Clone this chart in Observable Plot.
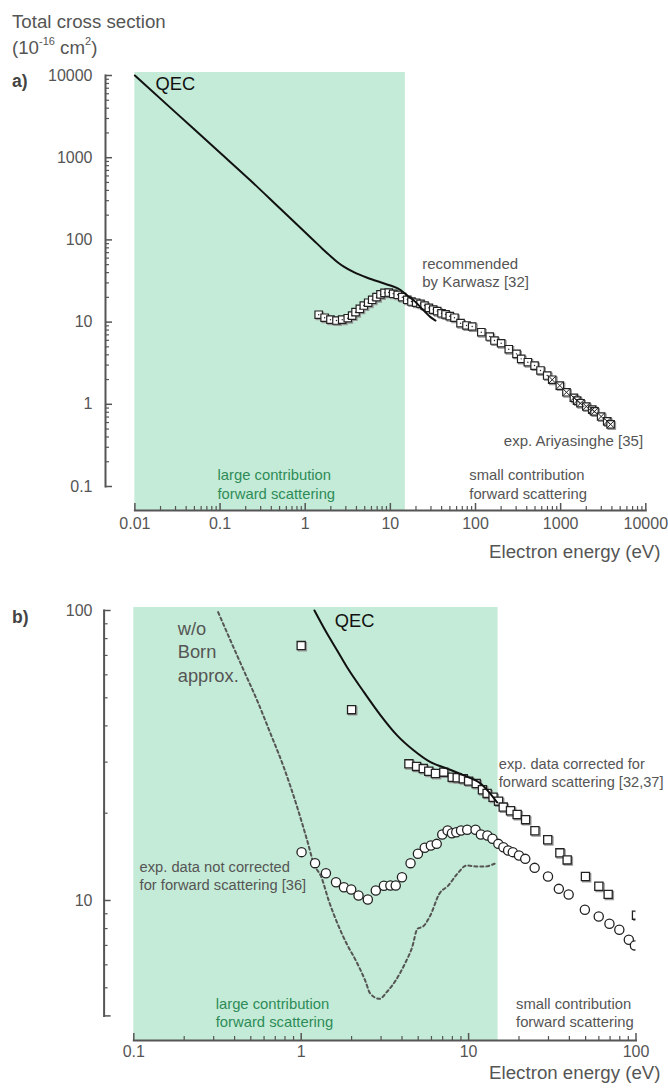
<!DOCTYPE html>
<html><head><meta charset="utf-8">
<script src="https://cdn.jsdelivr.net/npm/d3@7"></script>
<script src="https://cdn.jsdelivr.net/npm/@observablehq/plot@0.6"></script>
<style>
body{margin:0;background:#fff;}
#wrap{position:relative;width:668px;height:1092px;overflow:hidden;font-family:"Liberation Sans",Arial,Helvetica,sans-serif;color:#555;}
.lbl{position:absolute;left:12px;white-space:nowrap;line-height:1;}
.lbl sup{font-size:11px;line-height:0;vertical-align:baseline;position:relative;top:-9px;}
.panel{position:absolute;left:0;}
</style></head><body>
<div id="wrap">
<div id="pa" class="panel" style="top:0"></div>
<div id="pb" class="panel" style="top:585px"></div>
<div class="lbl" style="top:12.5px;font-size:18.7px">Total cross section</div>
<div class="lbl" style="top:39px;font-size:18.7px">(10<sup>-16</sup> cm<sup>2</sup>)</div>
<div class="lbl" style="top:73px;font-size:17.5px;font-weight:bold;color:#444">a)</div>
<div class="lbl" style="top:609px;font-size:17.5px;font-weight:bold;color:#444">b)</div>
</div>
<script>
// ---------- Panel a data ----------
const qecA_E = [0.01,0.03,0.1,0.228,0.5,1.26,1.6,2.0,2.4,2.84,3.72,5.35,7.66,10,13.2,15.8,19.8,24.7,29.6,33.9];
const qecA_Q = [10000,3560,1150,528,244,98.4,77.7,63.0,53.5,47.2,40.5,34.6,30.5,27.9,24.6,21.1,17.5,13.8,11.5,10.45];
const karwaszE = [1.44,1.69,1.98,2.33,2.72,3.16,3.56,3.90,4.38,4.88,5.49,6.12,6.88,7.66,8.53,9.59,10.8,12.2,13.8,15.8,17.7,20.1,22.6,25.2,28.3,31.9,35.5,39.9,44.5,49.9,56.6,66.7,78.4,91.4,117,147,167,200,246,303,344,412,494,580,695];
const karwaszQ = [12.3,11.3,10.7,10.45,10.7,11.15,12.0,13.2,14.5,15.9,17.2,18.7,20.1,21.7,22.7,22.9,22.1,21.5,20.1,18.7,17.8,17.2,16.7,15.9,14.9,14.2,13.6,12.8,12.4,11.8,11.3,9.7,9.1,8.84,7.53,6.68,5.97,5.53,4.68,4.11,3.57,3.25,2.96,2.58,2.24];
const ariyasingheE = [796,978,1170,1430,1560,1710,2000,2350,2500,2990,3520,3860];
const ariyasingheQ = [1.99,1.69,1.40,1.20,1.11,1.03,0.94,0.86,0.82,0.71,0.62,0.57];
const regionA = [{from: 0.01, to: 15}];
const xTicksA = [0.01,0.1,1,10,100,1000,10000];
const xLabelsA = ["0.01","0.1","1","10","100","1000","10000"];
const yTicksA = [0.1,1,10,100,1000,10000];
const yLabelsA = ["0.1","1","10","100","1000","10000"];

// ---------- Panel b data ----------
const qecB_E = [1.2,1.43,1.64,1.88,2.37,2.98,3.74,4.71,5.92,7.45,9.36,11.8,14.8];
const qecB_Q = [100,83.1,72.8,63.7,52.3,43.5,37.1,32.9,30.0,28.5,27.0,25.3,21.8];
const bornE = [0.319,0.378,0.454,0.546,0.656,0.787,0.946,1.086,1.19,1.32,1.46,1.65,1.87,2.12,2.41,2.59,2.94,3.24,3.67,4.16,4.60,4.95,5.34,5.90,6.68,7.56,8.57,9.72,11.27,12.46,14.3];
const bornQ = [98.7,78.8,62.1,48.9,37.6,28.8,21.0,16.1,13.39,12.03,10.0,8.31,7.09,6.21,5.30,4.77,4.58,4.83,5.30,6.05,6.90,7.99,8.13,8.87,10.54,11.26,12.36,13.2,13.1,13.1,13.39];
const correctedE = [1.0,2.0,4.40,4.89,5.36,5.78,6.34,7.11,7.98,8.55,9.29,10.0,11.1,12.1,12.9,14.0,15.1,16.1,17.8,19.5,21.9,24.9,29.7,35.1,38.8,49.9,60.0,68.2,100.7];
const correctedQ = [75.7,45.5,29.6,29.0,28.5,27.9,27.4,27.7,26.6,26.5,26.3,25.8,25.3,24.1,23.4,22.7,22.0,21.0,20.4,19.8,19.0,17.4,16.2,14.6,13.8,12.1,11.2,10.5,8.9];
const uncorrectedE = [1.005,1.21,1.405,1.614,1.80,1.99,2.20,2.50,2.79,3.12,3.41,3.67,4.00,4.50,4.98,5.47,5.95,6.45,6.96,7.49,7.95,8.44,9.01,9.81,11.0,11.84,12.95,13.89,15.05,16.14,17.22,18.37,20.0,21.8,24.8,29.8,34.6,39.6,49.5,59.9,69.4,79.5,90.6,98.5];
const uncorrectedQ = [14.68,13.45,12.42,11.56,11.11,10.91,10.40,10.08,10.83,11.24,11.26,11.26,12.03,13.45,14.49,15.2,15.47,15.68,16.89,17.43,17.06,17.20,17.43,17.53,17.53,16.89,16.75,16.32,15.68,15.27,14.87,14.68,14.29,13.92,12.96,12.10,10.97,10.49,9.29,8.81,8.31,7.93,7.32,7.0];
const regionB = [{from: 0.1, to: 15}];
const xTicksB = [0.1,1,10,100];
const xLabelsB = ["0.1","1","10","100"];
const yTicksB = [4,10,100];
const yLabelsB = ["","10","100"];

// ---------- helpers ----------
const pairs = (E, Q) => E.map((e, i) => ({e, q: Q[i]}));
function minor(lo, hi) { const t = []; for (let p = lo; p < hi; p++) for (let m = 2; m <= 9; m++) t.push(+(m * Math.pow(10, p)).toPrecision(3)); return t; }
const W = 668, gray = "#555", green = "#c4ebd7", greenText = "#2e8b57", ink = "#111";
const font = "Liberation Sans, Arial, Helvetica, sans-serif";

function axes(o) {
  const fh = o.axis - o.top, fw = o.x1 - o.left;
  return [
    Plot.frame({anchor: "bottom", insetLeft: o.x0 - o.left, stroke: gray, strokeWidth: 2}),
    Plot.frame({anchor: "left", insetTop: o.yTop - o.top, insetBottom: o.axis - o.yBot, stroke: gray, strokeWidth: 2}),
    Plot.tickX(o.xMajor, {x: d => d, insetTop: fh - 7, stroke: gray, strokeWidth: 1.5}),
    Plot.tickX(o.xMinor, {x: d => d, insetTop: fh - 4, stroke: gray, strokeWidth: 1.2}),
    Plot.tickY(o.yMajor, {y: d => d, insetRight: fw - 7, stroke: gray, strokeWidth: 1.5}),
    Plot.tickY(o.yMinor, {y: d => d, insetRight: fw - 4, stroke: gray, strokeWidth: 1.2}),
    Plot.text(o.xMajor, {x: d => d, text: (d, i) => o.xLabels[i], frameAnchor: "bottom", dy: o.xdy, fill: gray, fontSize: 16}),
    Plot.text(o.yMajor, {y: d => d, text: (d, i) => o.yLabels[i], frameAnchor: "left", dx: o.ydx, textAnchor: "end", fill: gray, fontSize: 16}),
    Plot.text(["Electron energy (eV)"], {frameAnchor: "bottom-right", dx: 660 - o.x1, dy: o.tdy, textAnchor: "end", fill: gray, fontSize: 18.7})
  ];
}
function squares(data, r, sw) {
  return [
    Plot.dot(data, {x: "e", y: "q", symbol: "square", r, fill: "none", stroke: "#999", strokeWidth: sw, dx: 1.2, dy: 1.2, clip: true}),
    Plot.dot(data, {x: "e", y: "q", symbol: "square", r, fill: "white", stroke: "#222", strokeWidth: sw, clip: true})
  ];
}

// ---------- Panel a ----------
const A = {H: 585, top: 72, axis: 510, left: 105, x0: 134.4, x1: 645.3, yTop: 75, yBot: 486,
  xMajor: xTicksA, xMinor: minor(-2, 4), xLabels: xLabelsA, yMajor: yTicksA, yMinor: minor(-1, 4), yLabels: yLabelsA,
  xdy: 18, ydx: -13, tdy: 47};
const karA = pairs(karwaszE, karwaszQ), ariA = pairs(ariyasingheE, ariyasingheQ);
const plotA = Plot.plot({
  width: W, height: A.H,
  marginTop: A.top, marginBottom: A.H - A.axis, marginLeft: A.left, marginRight: W - A.x1,
  style: {fontFamily: font, fontSize: "16px", color: gray, background: "transparent", overflow: "visible"},
  x: {type: "log", domain: [0.01, 10000], range: [A.x0, A.x1], axis: null},
  y: {type: "log", domain: [0.1, 10000], range: [A.yBot, A.yTop], axis: null},
  marks: [
    Plot.rect(regionA, {x1: "from", x2: "to", fill: green}),
    ...axes(A),
    ...squares(karA, 4.2, 1.2),
    Plot.dot(karA, {x: "e", y: "q", r: 0.7, fill: "#222"}),
    ...squares(ariA, 4.2, 1.2),
    Plot.dot(ariA, {x: "e", y: "q", symbol: "times", r: 3.3, stroke: "#222", strokeWidth: 1}),
    Plot.line(pairs(qecA_E, qecA_Q), {x: "e", y: "q", stroke: ink, strokeWidth: 2, curve: "monotone-x"}),
    Plot.text(["QEC"], {x: 0.0175, y: 6570, textAnchor: "start", lineAnchor: "bottom", fontSize: 18.3, fill: ink}),
    Plot.text(["recommended\nby Karwasz [32]"], {x: 23.7, y: 26.4, textAnchor: "start", lineAnchor: "bottom", lineHeight: 1.25, fontSize: 15, fill: gray}),
    Plot.text(["exp. Ariyasinghe [35]"], {x: 215, y: 0.307, textAnchor: "start", lineAnchor: "bottom", fontSize: 15, fill: gray}),
    Plot.text(["large contribution\nforward scattering"], {x: 0.0933, y: 0.0714, textAnchor: "start", lineAnchor: "bottom", lineHeight: 1.27, fontSize: 14.8, fill: greenText}),
    Plot.text(["small contribution\nforward scattering"], {x: 84.5, y: 0.0714, textAnchor: "start", lineAnchor: "bottom", lineHeight: 1.27, fontSize: 14.8, fill: gray})
  ]
});
document.getElementById("pa").appendChild(plotA);

// ---------- Panel b ----------
const B = {H: 507, top: 22, axis: 455, left: 103.6, x0: 133.3, x1: 635.5, yTop: 25, yBot: 430.4,
  xMajor: xTicksB, xMinor: minor(-1, 2), xLabels: xLabelsB, yMajor: yTicksB, yMinor: [5,6,7,8,9,20,30,40,50,60,70,80,90], yLabels: yLabelsB,
  xdy: 16, ydx: -11.6, tdy: 38};
const plotB = Plot.plot({
  width: W, height: B.H,
  marginTop: B.top, marginBottom: B.H - B.axis, marginLeft: B.left, marginRight: W - B.x1,
  style: {fontFamily: font, fontSize: "16px", color: gray, background: "transparent", overflow: "visible"},
  x: {type: "log", domain: [0.1, 100], range: [B.x0, B.x1], axis: null},
  y: {type: "log", domain: [4, 100], range: [B.yBot, B.yTop], axis: null},
  marks: [
    Plot.rect(regionB, {x1: "from", x2: "to", fill: green}),
    ...axes(B),
    Plot.line(pairs(bornE, bornQ), {x: "e", y: "q", stroke: gray, strokeWidth: 2, strokeDasharray: "3,3", curve: "monotone-x"}),
    ...squares(pairs(correctedE, correctedQ), 4.6, 1.3),
    Plot.dot(pairs(uncorrectedE, uncorrectedQ), {x: "e", y: "q", r: 4.6, fill: "white", stroke: "#222", strokeWidth: 1.3, clip: true}),
    Plot.line(pairs(qecB_E, qecB_Q), {x: "e", y: "q", stroke: ink, strokeWidth: 2, curve: "monotone-x"}),
    Plot.text(["QEC"], {x: 1.587, y: 87.6, textAnchor: "start", lineAnchor: "bottom", fontSize: 18.3, fill: ink}),
    Plot.text(["w/o\nBorn\napprox."], {x: 0.183, y: 56.9, textAnchor: "start", lineAnchor: "bottom", lineHeight: 1.26, fontSize: 18.3, fill: gray}),
    Plot.text(["exp. data corrected for\nforward scattering [32,37]"], {x: 15.15, y: 24.6, textAnchor: "start", lineAnchor: "bottom", lineHeight: 1.26, fontSize: 14.6, fill: gray}),
    Plot.text(["exp. data not corrected\nfor forward scattering [36]"], {x: 0.1083, y: 10.83, textAnchor: "start", lineAnchor: "bottom", lineHeight: 1.25, fontSize: 14.7, fill: gray}),
    Plot.text(["large contribution\nforward scattering"], {x: 0.3085, y: 3.66, textAnchor: "start", lineAnchor: "bottom", lineHeight: 1.25, fontSize: 14.8, fill: greenText}),
    Plot.text(["small contribution\nforward scattering"], {x: 19.2, y: 3.66, textAnchor: "start", lineAnchor: "bottom", lineHeight: 1.25, fontSize: 14.8, fill: gray})
  ]
});
document.getElementById("pb").appendChild(plotB);
</script>
</body></html>
